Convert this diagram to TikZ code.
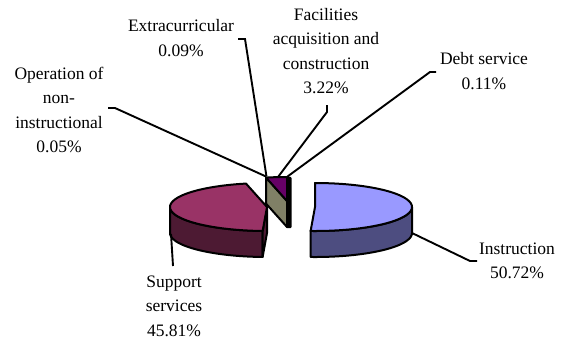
\documentclass[tikz,border=0pt]{standalone}
\usepackage{fontspec}
\setmainfont{Liberation Serif}
\definecolor{bluetop}{HTML}{9999FF}
\definecolor{blueside}{HTML}{4D4D80}
\definecolor{magtop}{HTML}{993366}
\definecolor{magside}{HTML}{4D1A33}
\definecolor{oliveside}{HTML}{808066}
\definecolor{purtop}{HTML}{660066}
\begin{document}
\begin{tikzpicture}[x=1pt,y=-1pt,
  outl/.style={draw=black,line width=2pt,line join=round},
  leader/.style={draw=black,line width=1.9pt,line join=miter},
  lbl/.style={align=center,font=\fontsize{17.5}{24.5}\selectfont,inner sep=0pt}]
\useasboundingbox (0,0) rectangle (564,341);
% ---- Support services (magenta), centre (267,207)
\filldraw[outl,fill=magside] plot[domain=182.6:270,samples=50] ({267+97*sin(\x)},{207-24*cos(\x)})
  -- plot[domain=270:182.6,samples=50] ({267+97*sin(\x)},{233-24*cos(\x)}) -- cycle;
\filldraw[outl,fill=magside] (267,207) -- ({267+97*sin(182.6)},{207-24*cos(182.6)})
  -- ({267+97*sin(182.6)},{233-24*cos(182.6)}) -- (267,233) -- cycle;
\filldraw[outl,fill=magtop] (267,207) -- plot[domain=182.6:347.5,samples=80] ({267+97*sin(\x)},{207-24*cos(\x)}) -- cycle;
% ---- Instruction (blue), centre (315,207)
\filldraw[outl,fill=blueside] plot[domain=90:182.6,samples=50] ({315+97*sin(\x)},{207-24*cos(\x)})
  -- plot[domain=182.6:90,samples=50] ({315+97*sin(\x)},{233-24*cos(\x)}) -- cycle;
\filldraw[outl,fill=bluetop] (315,207) -- plot[domain=0:182.6,samples=80] ({315+97*sin(\x)},{207-24*cos(\x)}) -- cycle;
% ---- small slices, centre (287,201)
\filldraw[outl,fill=oliveside] (287,201) -- ({287+97*sin(347.5)},{201-24*cos(347.5)})
  -- ({287+97*sin(347.5)},{227-24*cos(347.5)}) -- (287,227) -- cycle;
\filldraw[outl,fill=black] (287,177) -- (290.5,178) -- (290.5,227) -- (287,227) -- cycle;
\filldraw[outl,fill=purtop] (287,201) -- plot[domain=347.5:360,samples=20] ({287+97*sin(\x)},{201-24*cos(\x)}) -- cycle;
% ---- pie anchor points for leaders
\coordinate (pOp) at (266,176.5);
\coordinate (pEx) at (266.5,176.5);
\coordinate (pFa) at (278,177);
\coordinate (pDe) at (287.5,176.5);
\coordinate (pSu) at (171,234);
\coordinate (pIn) at (412,233);
% ---- labels
\node[lbl] (lEx) at (181,38) {Extracurricular\\0.09\%};
\node[lbl] (lOp) at (59,110) {Operation of\\non-\\instructional\\0.05\%};
\node[lbl] (lFa) at (326,51) {Facilities\\acquisition and\\construction\\3.22\%};
\node[lbl] (lDe) at (484,71) {Debt service\\0.11\%};
\node[lbl] (lSu) at (174,306) {Support\\services\\45.81\%};
\node[lbl] (lIn) at (517,261) {Instruction\\50.72\%};
% ---- leader lines
\coordinate (sEx1) at (238,39); \coordinate (sEx2) at (245,39);
\coordinate (sOp1) at (108,108); \coordinate (sOp2) at (115,108);
\coordinate (sFa1) at (327,105); \coordinate (sFa2) at (327,112);
\coordinate (sDe1) at (436,72); \coordinate (sDe2) at (430,72);
\coordinate (sSu1) at (173,266);
\coordinate (sIn1) at (477,261); \coordinate (sIn2) at (470,261);
\draw[leader] (sEx1) -- (sEx2) -- (pEx);
\draw[leader] (sOp1) -- (sOp2) -- (pOp);
\draw[leader] (sFa1) -- (sFa2) -- (pFa);
\draw[leader] (sDe1) -- (sDe2) -- (pDe);
\draw[leader] (sSu1) -- (pSu);
\draw[leader] (sIn1) -- (sIn2) -- (pIn);
\end{tikzpicture}
\end{document}
